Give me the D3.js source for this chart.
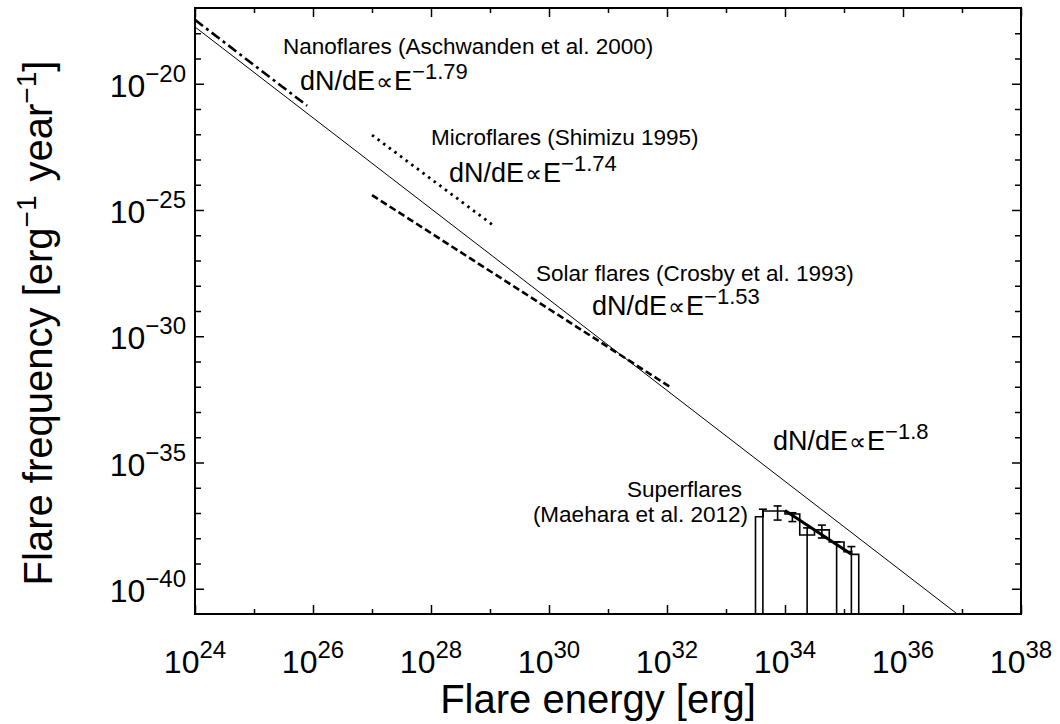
<!DOCTYPE html>
<html>
<head>
<meta charset="utf-8">
<title>Flare frequency distribution</title>
<script src="https://d3js.org/d3.v7.min.js"></script>
<style>
  body { margin: 0; background: #fff; }
  text { font-family: "Liberation Sans", Arial, Helvetica, sans-serif; fill: #000; }
</style>
</head>
<body>
<svg id="chart" width="1060" height="724"></svg>
<script>
// ---- data (log10 values) ----
const xLabelExps = [24, 26, 28, 30, 32, 34, 36, 38];
const xMinorExps = [25, 27, 29, 31, 33, 35, 37];
const yLabelExps = [-20, -25, -30, -35, -40];
const yMinorExps = [-18, -19, -21, -22, -23, -24, -26, -27, -28, -29, -31, -32, -33, -34, -36, -37, -38, -39];

// power-law lines: [logE, logF] end points
const solidLine = [[24, -17.75], [36.92, -41.0]];      // dN/dE ∝ E^-1.8
const nanoLine = [[24, -17.47], [25.9, -20.87]];       // Aschwanden et al. 2000
const microLine = [[27.0, -22.03], [29.08, -25.65]];   // Shimizu 1995
const solarLine = [[27.0, -24.41], [32.08, -32.05]];   // Crosby et al. 1993
const fitLine = [[34.0, -36.9], [35.125, -38.63]];     // superflare fit

// superflare histogram (Maehara et al. 2012)
const histEdges = [33.5, 33.63, 34.0, 34.25, 34.5, 34.75, 35.0, 35.13, 35.25];
const histLogF = [-37.15, -36.92, -37.04, -37.87, -37.67, -38.15, -38.53, -38.64];
const errLogE = [33.625, 33.875, 34.125, 34.375, 34.625, 34.875, 35.125];
const errHi = [-36.85, -36.72, -36.99, -37.59, -37.48, -38.14, -38.33];
const errLo = [null, -37.28, -37.34, null, -37.99, null, null]; // null = down to axis

// ---- layout ----
const svg = d3.select("#chart");
const margin = { top: 8, right: 39, bottom: 110, left: 195 };
const width = 1060 - margin.left - margin.right;
const height = 724 - margin.top - margin.bottom;
const p = v => Math.pow(10, v);

const x = d3.scaleLog().domain([1e24, 1e38]).range([0, width]);
const y = d3.scaleLog().domain([1e-41, 1e-17]).range([height, 0]);

const g = svg.append("g").attr("transform", `translate(${margin.left},${margin.top})`);
g.append("defs").append("clipPath").attr("id", "clip")
  .append("rect").attr("width", width).attr("height", height);

// ticks (inward, mirrored)
function ticks(axis, values, size, tr) {
  g.append("g").attr("transform", tr)
    .call(axis.tickValues(values.map(p)).tickSize(size).tickFormat(""))
    .call(s => s.select(".domain").remove())
    .call(s => s.selectAll("line").attr("stroke", "#000").attr("stroke-width", 1.5));
}
ticks(d3.axisBottom(x), xLabelExps, -9, `translate(0,${height})`);
ticks(d3.axisBottom(x), xMinorExps, -5, `translate(0,${height})`);
ticks(d3.axisTop(x), xLabelExps, -9, "translate(0,0)");
ticks(d3.axisTop(x), xMinorExps, -5, "translate(0,0)");
ticks(d3.axisLeft(y), yLabelExps, -9, "translate(0,0)");
ticks(d3.axisLeft(y), yMinorExps, -6, "translate(0,0)");
ticks(d3.axisRight(y), yLabelExps, -9, `translate(${width},0)`);
ticks(d3.axisRight(y), yMinorExps, -6, `translate(${width},0)`);

// tick labels
const xl = g.append("g").selectAll("text").data(xLabelExps).join("text")
  .attr("x", d => x(p(d))).attr("y", height + 59)
  .attr("text-anchor", "middle").style("font-size", "32px");
xl.append("tspan").text("10");
xl.append("tspan").attr("dy", -15).style("font-size", "24px").text(d => d);

const yl = g.append("g").selectAll("text").data(yLabelExps).join("text")
  .attr("x", -9).attr("y", d => y(p(d)) + 13)
  .attr("text-anchor", "end").style("font-size", "32px");
yl.append("tspan").text("10");
yl.append("tspan").attr("dy", -15).style("font-size", "24px").text(d => "\u2212" + Math.abs(d));

// axis titles
g.append("text").attr("x", 598 - margin.left).attr("y", 713 - margin.top)
  .attr("text-anchor", "middle").style("font-size", "40px").text("Flare energy [erg]");

const yt = g.append("text")
  .attr("transform", `translate(${52 - margin.left},${323 - margin.top}) rotate(-90)`)
  .attr("text-anchor", "middle").style("font-size", "40px");
yt.append("tspan").text("Flare frequency [erg");
yt.append("tspan").attr("dy", -16).style("font-size", "28px").text("\u22121");
yt.append("tspan").attr("dy", 16).attr("dx", 14).text("year");
yt.append("tspan").attr("dy", -16).style("font-size", "28px").text("\u22121");
yt.append("tspan").attr("dy", 16).text("]");

// lines
const line = d3.line().x(d => x(p(d[0]))).y(d => y(p(d[1])));
const plot = g.append("g").attr("clip-path", "url(#clip)");
plot.append("path").datum(solidLine).attr("d", line)
  .attr("fill", "none").attr("stroke", "#000").attr("stroke-width", 1);
plot.append("path").datum(nanoLine).attr("d", line)
  .attr("fill", "none").attr("stroke", "#000").attr("stroke-width", 2.6)
  .attr("stroke-dasharray", "10,4,3,4");
plot.append("path").datum(microLine).attr("d", line)
  .attr("fill", "none").attr("stroke", "#000").attr("stroke-width", 2.8)
  .attr("stroke-dasharray", "2.5,4.5");
plot.append("path").datum(solarLine).attr("d", line)
  .attr("fill", "none").attr("stroke", "#000").attr("stroke-width", 2.6)
  .attr("stroke-dasharray", "7,3.5");

// histogram as step outline
const steps = [[histEdges[0], -41]];
histLogF.forEach((v, i) => { steps.push([histEdges[i], v]); steps.push([histEdges[i + 1], v]); });
steps.push([histEdges[histEdges.length - 1], -41]);
plot.append("path").datum(steps).attr("d", line)
  .attr("fill", "none").attr("stroke", "#000").attr("stroke-width", 1.6);

// error bars
const eb = plot.append("g").attr("stroke", "#000").attr("stroke-width", 1.6);
errLogE.forEach((e, i) => {
  const cx = x(p(e));
  const yTop = y(p(errHi[i]));
  const yBot = errLo[i] === null ? height : y(p(errLo[i]));
  eb.append("line").attr("x1", cx).attr("x2", cx).attr("y1", yTop).attr("y2", yBot);
  eb.append("line").attr("x1", cx - 4).attr("x2", cx + 4).attr("y1", yTop).attr("y2", yTop);
  if (errLo[i] !== null)
    eb.append("line").attr("x1", cx - 4).attr("x2", cx + 4).attr("y1", yBot).attr("y2", yBot);
});

plot.append("path").datum(fitLine).attr("d", line)
  .attr("fill", "none").attr("stroke", "#000").attr("stroke-width", 3);

// frame
g.append("rect").attr("width", width).attr("height", height)
  .attr("fill", "none").attr("stroke", "#000").attr("stroke-width", 2);

// annotations
function label(tx, ty, text, anchor) {
  g.append("text").attr("x", tx - margin.left).attr("y", ty - margin.top)
    .attr("text-anchor", anchor || "start").style("font-size", "22.5px").text(text);
}
function law(tx, ty, expo) {
  const t = g.append("text").attr("x", tx - margin.left).attr("y", ty - margin.top)
    .style("font-size", "27px");
  t.append("tspan").text("dN/dE");
  t.append("tspan").style("font-size", "24px").attr("dx", 1).text("\u221D");
  t.append("tspan").attr("dx", 1).text("E");
  t.append("tspan").attr("dy", -11).style("font-size", "22px").text(expo);
}
label(283, 54, "Nanoflares (Aschwanden et al. 2000)");
law(300, 90, "\u22121.79");
label(431, 145, "Microflares (Shimizu 1995)");
law(449, 182, "\u22121.74");
label(536, 281, "Solar flares (Crosby et al. 1993)");
law(592, 315, "\u22121.53");
law(773, 450, "\u22121.8");
label(742, 497, "Superflares", "end");
label(748, 522, "(Maehara et al. 2012)", "end");
</script>
</body>
</html>
